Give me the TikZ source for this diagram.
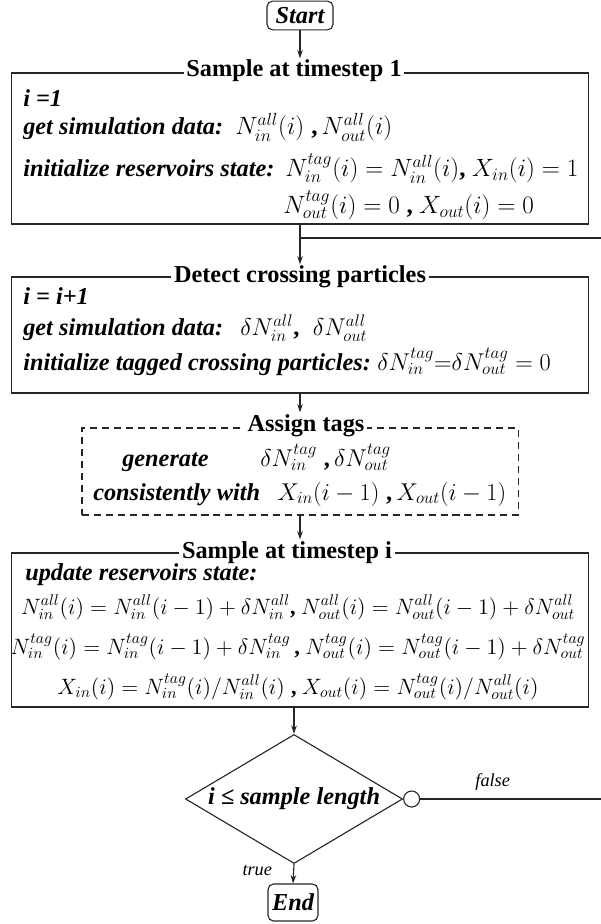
\RequirePackage{fix-cm}
\documentclass[tikz,border=0pt]{standalone}
\usepackage{fontspec}
\setmainfont{Liberation Serif}
\usetikzlibrary{positioning,calc,arrows.meta,shapes.geometric}

\newcommand{\flowsize}{\fontsize{17.28}{20}\selectfont}
\newcommand{\bcm}{\mbox{\bfseries ,}}

\tikzset{
  wire/.style={draw=black!85, line width=0.8pt},
  arr/.style={wire, -{Stealth[length=6pt,width=4pt]}},
  stagebox/.style={wire, minimum width=14.4cm, inner sep=0pt},
  tagbox/.style={wire, dash pattern=on 5pt off 3.5pt, inner sep=0pt},
  ttl/.style={fill=white, inner xsep=2pt, inner ysep=1pt, anchor=base, font=\flowsize\bfseries},
  txt/.style={anchor=base west, inner sep=0pt, font=\flowsize\bfseries\itshape},
  eqn/.style={anchor=base west, inner sep=0pt, font=\flowsize},
  upd/.style={anchor=base, inner sep=0pt, font=\fontsize{15.8}{19}\selectfont},
  term/.style={wire, rounded corners=4pt, inner sep=0pt, font=\flowsize\bfseries\itshape},
  flab/.style={inner sep=0pt, font=\fontsize{13}{15}\selectfont\itshape},
}

\begin{document}
\begin{tikzpicture}[x=0.025cm, y=-0.025cm]
\useasboundingbox (0,0) rectangle (600,924);

\node[term, minimum width=1.65cm, minimum height=0.72cm] (start) at (300,15.5) {Start};

% sample at timestep 1
\node[stagebox, minimum height=3.775cm] (box1) at (300,148.5) {};
\node[ttl] (ttl1) at (294,77) {Sample at timestep 1};
\node[txt] (b1l1) at (23,107) {i =1};
\node[txt] (b1l2) at (23,135) {get simulation data:};
\node[eqn, font=\fontsize{17.8}{20}\selectfont] (b1m2) at (235,135) {$N_{in}^{all}(i)\;\bcm\, N_{out}^{all}(i)$};
\node[txt] (b1l3) at (23,177) {initialize reservoirs state:};
\node[eqn, font=\fontsize{17.8}{20}\selectfont] (b1m3) at (285,177) {$N_{in}^{tag}(i) = N_{in}^{all}(i)\bcm\ X_{in}(i) = 1$};
\node[eqn, font=\fontsize{17.8}{20}\selectfont] (b1m4) at (283,214) {$N_{out}^{tag}(i) = 0\;\bcm\ X_{out}(i) = 0$};

% detect crossing particles
\node[stagebox, minimum height=2.9cm] (box2) at (300,335) {};
\node[ttl] (ttl2) at (300,283) {Detect crossing particles};
\node[txt] (b2l1) at (23,305) {i = i+1};
\node[txt] (b2l2) at (23,335) {get simulation data:};
\node[eqn] (b2m2) at (240,335) {$\delta N_{in}^{all}\bcm\;\; \delta N_{out}^{all}$};
\node[txt] (b2l3) at (23,370) {initialize tagged crossing particles:};
\node[eqn] (b2m3) at (377,370) {$\delta N_{in}^{tag}{=}\delta N_{out}^{tag} = 0$};

% assign tags
\node[tagbox, minimum width=10.9cm, minimum height=2.175cm] (tags) at (300,471.5) {};
\node[ttl] (ttl3) at (306,431) {Assign tags};
\node[txt] (b3l1) at (122,466) {generate};
\node[eqn] (b3m1) at (260,466) {$\delta N_{in}^{tag}\;\bcm\,\delta N_{out}^{tag}$};
\node[txt] (b3l2) at (93,500) {consistently with};
\node[eqn] (b3m2) at (277,500) {$X_{in}(i-1)\;\bcm\, X_{out}(i-1)$};

% sample at timestep i
\node[stagebox, minimum height=3.85cm] (box3) at (300,630) {};
\node[ttl] (ttl4) at (287,558) {Sample at timestep i};
\node[txt] (b4l1) at (25,580) {update reservoirs state:};
\node[upd] (b4m1) at (298,614)
  {$N_{in}^{all}(i) = N_{in}^{all}(i-1) + \delta N_{in}^{all}\bcm\ N_{out}^{all}(i) = N_{out}^{all}(i-1) + \delta N_{out}^{all}$};
\node[upd] (b4m2) at (298,654)
  {$N_{in}^{tag}(i) = N_{in}^{tag}(i-1) + \delta N_{in}^{tag}\,\bcm\ N_{out}^{tag}(i) = N_{out}^{tag}(i-1) + \delta N_{out}^{tag}$};
\node[upd] (b4m3) at (298,694)
  {$X_{in}(i) = N_{in}^{tag}(i)/N_{in}^{all}(i)\;\bcm\ X_{out}(i) = N_{out}^{tag}(i)/N_{out}^{all}(i)$};

% loop test
\node[wire, diamond, aspect=1.68, minimum width=5.425cm, minimum height=3.225cm,
      inner sep=0pt, font=\flowsize\bfseries\itshape] (cond) at (294,799) {i ≤ sample length};
\node[wire, circle, minimum size=0.4cm, inner sep=0pt, anchor=west] (neg) at (cond.east) {};
\node[term, minimum width=1.25cm, minimum height=0.925cm] (end) at (293,902.5) {End};

\coordinate (join) at (300,238);
\coordinate (rgt) at (606,799);

\draw[arr] (start) -- (start |- ttl1.north);
\draw[arr] (box1.south) -- (box1.south |- ttl2.north);
\draw[arr] (box2.south) -- (box2.south |- ttl3.north);
\draw[arr] (tags.south) -- (tags.south |- ttl4.north);
\draw[arr] (cond.north |- box3.south) -- (cond.north);
\draw[arr] (cond.south) -- node[flab, left=15pt, pos=0.35] (ltrue) {true} (end.north);
\draw[wire] (neg) -- node[flab, above=6pt, pos=0.39] (lfalse) {false} (rgt) |- (join);
\end{tikzpicture}
\end{document}
